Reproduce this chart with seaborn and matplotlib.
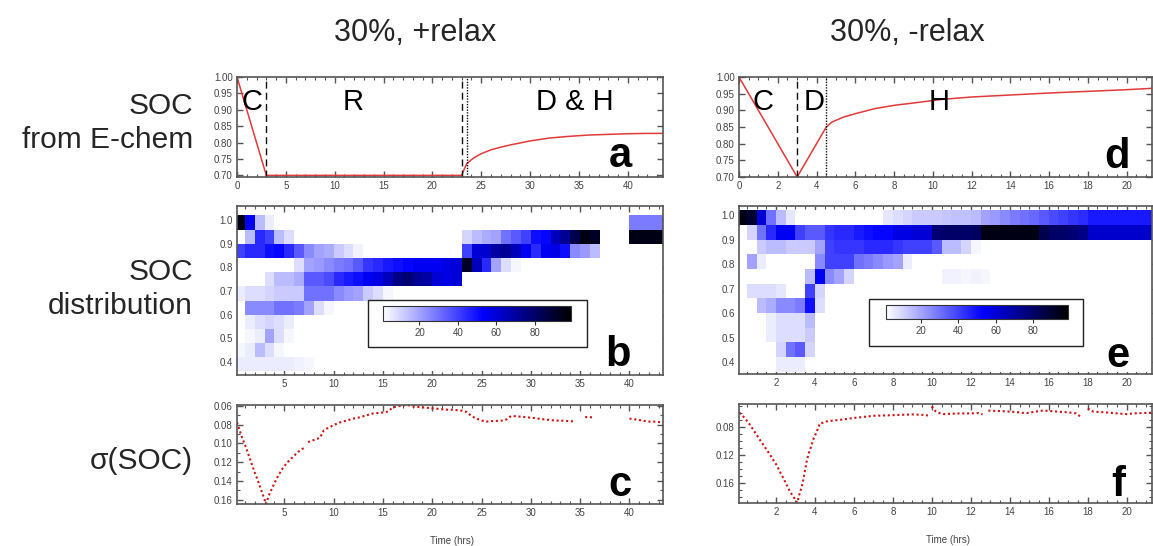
import numpy as np
import pandas as pd
import matplotlib
matplotlib.use("Agg")
import matplotlib.pyplot as plt
import seaborn as sns
from matplotlib.colors import LinearSegmentedColormap
from matplotlib.ticker import MultipleLocator, FormatStrFormatter
from matplotlib.patches import Rectangle

sns.set_theme(style="ticks")
plt.rcParams["font.family"] = ["Liberation Sans", "DejaVu Sans"]

# ---------------- data ----------------
titles = ["30%, +relax", "30%, -relax"]
row_labels = ["SOC\nfrom E-chem", "SOC\ndistribution", "\u03c3(SOC)"]
phase_left = ["C", "R", "D & H"]
phase_right = ["C", "D", "H"]
panel_letters = ["a", "b", "c", "d", "e", "f"]

# (a) SOC from electrochemistry, +relax
a_time = [0.0, 3.0, 23.0, 23.2, 23.5, 24.0, 24.5, 25.0, 26.0, 27.0, 28.0, 30.0,
          32.0, 34.0, 36.0, 38.0, 40.0, 42.0, 43.6]
a_soc = [1.00, 0.70, 0.70, 0.715, 0.735, 0.748, 0.758, 0.766, 0.778, 0.786, 0.793,
         0.805, 0.814, 0.819, 0.823, 0.825, 0.827, 0.828, 0.828]
a_dashed = [3.0, 23.0]
a_dotted = [23.5]

# (d) SOC from electrochemistry, -relax
d_time = [0.0, 3.0, 4.5, 4.8, 5.4, 6.0, 7.0, 8.0, 9.0, 10.5, 12.0, 14.0, 16.0,
          18.0, 20.0, 21.3]
d_soc = [1.00, 0.70, 0.850, 0.865, 0.880, 0.890, 0.905, 0.915, 0.922, 0.933, 0.940,
         0.946, 0.952, 0.957, 0.962, 0.966]
d_dashed = [3.0]
d_dotted = [4.5]

# SOC bins (rows, low -> high edges)
soc_edges = [0.36, 0.42, 0.48, 0.54, 0.60, 0.66, 0.72, 0.78, 0.84, 0.90, 0.96, 1.02]

# (b) SOC distribution, +relax : 1-hr time bins, 0..44 h
b_time_edges = list(range(0, 45))
b_row_099 = [95, 55, 15, 5, 0, 0, 0, 0, 0, 0,  0, 0, 0, 0, 0, 0, 0, 0, 0, 0,
             0, 0, 0, 0, 0, 0, 0, 0, 0, 0,  0, 0, 0, 0, 0, 0, 0, 0, 0, 0,  28, 28, 28, 28]
b_row_093 = [0, 15, 45, 40, 15, 8, 0, 0, 0, 0,  0, 0, 0, 0, 0, 0, 0, 0, 0, 0,
             0, 0, 0, 10, 15, 18, 20, 30, 35, 40,  50, 52, 65, 72, 85, 95, 92, 0, 0, 0,  95, 95, 95, 95]
b_row_087 = [40, 45, 45, 50, 52, 45, 35, 25, 20, 18,  12, 8, 4, 0, 0, 0, 0, 0, 0, 0,
             0, 0, 0, 40, 60, 62, 70, 72, 65, 55,  45, 55, 58, 50, 25, 22, 15, 0, 0, 0,  0, 0, 0, 0]
b_row_081 = [0, 0, 0, 0, 0, 0, 8, 20, 22, 25,  28, 30, 35, 42, 45, 48, 50, 52, 55, 55,
             55, 58, 60, 92, 65, 45, 20, 8, 3, 0,  0, 0, 0, 0, 0, 0, 0, 0, 0, 0,  0, 0, 0, 0]
b_row_075 = [0, 0, 0, 8, 15, 15, 18, 35, 35, 38,  45, 48, 50, 55, 58, 65, 75, 78, 72, 70,
             60, 58, 60, 0, 0, 0, 0, 0, 0, 0,  0, 0, 0, 0, 0, 0, 0, 0, 0, 0,  0, 0, 0, 0]
b_row_069 = [5, 8, 8, 10, 12, 12, 12, 30, 30, 30,  25, 22, 20, 12, 8, 3, 0, 0, 0, 0,
             0, 0, 0, 0, 0, 0, 0, 0, 0, 0,  0, 0, 0, 0, 0, 0, 0, 0, 0, 0,  0, 0, 0, 0]
b_row_063 = [0, 25, 25, 25, 30, 30, 28, 20, 8, 3,  0, 0, 0, 0, 0, 0, 0, 0, 0, 0,
             0, 0, 0, 0, 0, 0, 0, 0, 0, 0,  0, 0, 0, 0, 0, 0, 0, 0, 0, 0,  0, 0, 0, 0]
b_row_057 = [0, 5, 8, 10, 8, 5, 0, 0, 0, 0,  0, 0, 0, 0, 0, 0, 0, 0, 0, 0,
             0, 0, 0, 0, 0, 0, 0, 0, 0, 0,  0, 0, 0, 0, 0, 0, 0, 0, 0, 0,  0, 0, 0, 0]
b_row_051 = [0, 3, 5, 20, 8, 3, 0, 0, 0, 0,  0, 0, 0, 0, 0, 0, 0, 0, 0, 0,
             0, 0, 0, 0, 0, 0, 0, 0, 0, 0,  0, 0, 0, 0, 0, 0, 0, 0, 0, 0,  0, 0, 0, 0]
b_row_045 = [3, 5, 15, 8, 3, 0, 0, 0, 0, 0,  0, 0, 0, 0, 0, 0, 0, 0, 0, 0,
             0, 0, 0, 0, 0, 0, 0, 0, 0, 0,  0, 0, 0, 0, 0, 0, 0, 0, 0, 0,  0, 0, 0, 0]
b_row_039 = [5, 5, 5, 5, 5, 5, 4, 3, 0, 0,  0, 0, 0, 0, 0, 0, 0, 0, 0, 0,
             0, 0, 0, 0, 0, 0, 0, 0, 0, 0,  0, 0, 0, 0, 0, 0, 0, 0, 0, 0,  0, 0, 0, 0]

# (e) SOC distribution, -relax : 0.5-hr time bins, 0..21.5 h
e_time_edges = [0.5 * k for k in range(44)]
e_row_099 = [95, 90, 60, 30, 15, 6, 0, 0, 0, 0,  0, 0, 0, 0, 0, 6, 8, 10, 12, 12,
             12, 13, 14, 14, 15, 20, 22, 25, 28, 30,  32, 35, 38, 40, 42, 44, 48, 48, 48, 48,  48, 48, 48]
e_row_093 = [0, 10, 30, 45, 55, 55, 40, 35, 35, 42,  45, 45, 48, 50, 52, 52, 58, 58, 60, 60,
             78, 80, 80, 80, 82, 95, 95, 95, 95, 95,  95, 85, 80, 80, 78, 75, 62, 62, 62, 62,  62, 62, 62]
e_row_087 = [0, 0, 12, 15, 15, 12, 12, 12, 20, 40,  42, 42, 42, 45, 45, 45, 42, 40, 40, 40,
             35, 15, 15, 10, 3, 0, 0, 0, 0, 0,  0, 0, 0, 0, 0, 0, 0, 0, 0, 0,  0, 0, 0]
e_row_081 = [0, 20, 5, 0, 0, 0, 0, 0, 25, 40,  40, 40, 30, 28, 25, 22, 20, 5, 0, 0,
             0, 0, 0, 0, 0, 0, 0, 0, 0, 0,  0, 0, 0, 0, 0, 0, 0, 0, 0, 0,  0, 0, 0]
e_row_075 = [0, 0, 0, 0, 0, 0, 0, 15, 55, 25,  20, 10, 0, 0, 0, 0, 0, 0, 0, 0,
             0, 4, 4, 3, 4, 3, 0, 0, 0, 0,  0, 0, 0, 0, 0, 0, 0, 0, 0, 0,  0, 0, 0]
e_row_069 = [0, 8, 8, 8, 6, 0, 0, 40, 10, 0,  0, 0, 0, 0, 0, 0, 0, 0, 0, 0,
             0, 0, 0, 0, 0, 0, 0, 0, 0, 0,  0, 0, 0, 0, 0, 0, 0, 0, 0, 0,  0, 0, 0]
e_row_063 = [0, 0, 15, 18, 25, 25, 28, 50, 8, 0,  0, 0, 0, 0, 0, 0, 0, 0, 0, 0,
             0, 0, 0, 0, 0, 0, 0, 0, 0, 0,  0, 0, 0, 0, 0, 0, 0, 0, 0, 0,  0, 0, 0]
e_row_057 = [0, 0, 0, 5, 8, 8, 8, 15, 0, 0,  0, 0, 0, 0, 0, 0, 0, 0, 0, 0,
             0, 0, 0, 0, 0, 0, 0, 0, 0, 0,  0, 0, 0, 0, 0, 0, 0, 0, 0, 0,  0, 0, 0]
e_row_051 = [0, 0, 0, 5, 8, 8, 8, 12, 0, 0,  0, 0, 0, 0, 0, 0, 0, 0, 0, 0,
             0, 0, 0, 0, 0, 0, 0, 0, 0, 0,  0, 0, 0, 0, 0, 0, 0, 0, 0, 0,  0, 0, 0]
e_row_045 = [0, 0, 0, 0, 10, 30, 35, 10, 0, 0,  0, 0, 0, 0, 0, 0, 0, 0, 0, 0,
             0, 0, 0, 0, 0, 0, 0, 0, 0, 0,  0, 0, 0, 0, 0, 0, 0, 0, 0, 0,  0, 0, 0]
e_row_039 = [0, 0, 0, 0, 5, 5, 5, 0, 0, 0,  0, 0, 0, 0, 0, 0, 0, 0, 0, 0,
             0, 0, 0, 0, 0, 0, 0, 0, 0, 0,  0, 0, 0, 0, 0, 0, 0, 0, 0, 0,  0, 0, 0]
cbar_ticks = [20, 40, 60, 80]

# (c) sigma(SOC), +relax  (segments separated by data gaps)
c_seg1_t = [0.2, 0.5, 0.8, 1.1, 1.4, 1.7, 2.0, 2.3, 2.6, 2.9, 3.15, 3.4, 3.7, 4.0,
            4.4, 4.8, 5.2, 5.6, 6.0, 6.4, 6.8, 7.1]
c_seg1_s = [0.0775, 0.087, 0.096, 0.104, 0.113, 0.122, 0.131, 0.139, 0.148, 0.157,
            0.1645, 0.156, 0.149, 0.142, 0.134, 0.127, 0.1215, 0.117, 0.113, 0.109,
            0.106, 0.104]
c_seg2_t = [7.4, 7.8, 8.2, 8.6, 9.0, 9.5, 10.0, 10.5, 11.0, 11.5, 12.0, 12.5, 13.0,
            13.5, 14.0, 14.5, 15.0, 15.5, 16.0, 16.5, 17.0, 17.5, 18.0, 18.5, 19.0,
            19.5, 20.0, 20.5, 21.0, 21.5, 22.0, 22.5, 23.0, 23.5, 24.0, 24.5, 25.0,
            25.5, 26.0, 26.5, 27.0, 27.5, 28.0, 28.5, 29.0, 29.5, 30.0, 30.5, 31.0,
            31.5, 32.0, 32.5, 33.0, 33.5, 34.0, 34.5]
c_seg2_s = [0.0985, 0.097, 0.0955, 0.094, 0.086, 0.083, 0.0805, 0.078, 0.0765, 0.075,
            0.0735, 0.0725, 0.071, 0.0695, 0.068, 0.0675, 0.067, 0.066, 0.0615, 0.0605,
            0.0595, 0.059, 0.0605, 0.061, 0.0615, 0.062, 0.0625, 0.063, 0.0635, 0.064,
            0.064, 0.0645, 0.065, 0.0665, 0.071, 0.0735, 0.0755, 0.0767, 0.0762, 0.076,
            0.0757, 0.0745, 0.0707, 0.071, 0.0715, 0.072, 0.0725, 0.073, 0.074, 0.0745,
            0.075, 0.0757, 0.0755, 0.076, 0.0762, 0.0767]
c_seg3_t = [35.5, 35.8, 36.2]
c_seg3_s = [0.072, 0.0718, 0.0722]
c_seg4_t = [40.0, 40.5, 41.0, 41.5, 42.0, 42.5, 43.0, 43.4]
c_seg4_s = [0.0735, 0.0742, 0.075, 0.076, 0.0767, 0.0767, 0.0772, 0.0774]

# (f) sigma(SOC), -relax
f_seg1_t = [0.12, 0.33, 0.5, 0.67, 0.84, 1.01, 1.18, 1.35, 1.52, 1.69, 1.86, 2.03,
            2.2, 2.38, 2.55, 2.72, 2.89, 3.09, 3.2, 3.32, 3.4, 3.49, 3.57, 3.66, 3.74,
            3.83, 3.9, 3.99, 4.09, 4.17, 4.26, 4.43, 4.6, 5.0, 5.5, 6.0, 6.5, 7.0,
            7.5, 8.0, 8.5, 9.0, 9.5, 9.8]
f_seg1_s = [0.060, 0.0657, 0.0714, 0.0776, 0.0847, 0.0919, 0.099, 0.106, 0.113, 0.120,
            0.1276, 0.1347, 0.1443, 0.1537, 0.1633, 0.1729, 0.180, 0.1886, 0.1767,
            0.1657, 0.156, 0.1419, 0.130, 0.120, 0.113, 0.106, 0.099, 0.0933, 0.087,
            0.081, 0.075, 0.0743, 0.0725, 0.071, 0.0695, 0.0675, 0.066, 0.0645, 0.064,
            0.0635, 0.063, 0.0625, 0.063, 0.064]
f_seg2_t = [10.0, 10.1, 10.3, 10.6, 11.0, 11.5, 12.0, 12.4, 12.6]
f_seg2_s = [0.051, 0.056, 0.060, 0.062, 0.0615, 0.061, 0.061, 0.0605, 0.0625]
f_seg3_t = [12.9, 13.3, 13.7, 14.0, 14.5, 14.8, 15.2, 15.7, 16.0, 16.5, 17.0, 17.4, 17.6]
f_seg3_s = [0.057, 0.0575, 0.058, 0.0585, 0.0595, 0.061, 0.059, 0.057, 0.0575, 0.0586,
            0.0595, 0.061, 0.065]
f_seg4_t = [18.0, 18.3, 18.6, 19.1, 19.5, 20.0, 20.4, 20.8, 21.3]
f_seg4_s = [0.054, 0.0586, 0.059, 0.060, 0.061, 0.062, 0.061, 0.0605, 0.060]

# ---------------- helpers ----------------
RED_LINE = "#e03a3a"
RED_DOT = "#cc1414"
FRAME = "#555555"
TICKLAB = "#444444"

cmap = LinearSegmentedColormap.from_list(
    "wbk", [(0.0, "#ffffff"), (0.53, "#0000ff"), (1.0, "#000000")])


def style(ax):
    for s in ax.spines.values():
        s.set_color(FRAME)
        s.set_linewidth(1.2)
    ax.tick_params(which="both", direction="in", top=True, right=True,
                   color=FRAME, labelcolor=TICKLAB, labelsize=7, pad=3)
    ax.tick_params(which="major", length=4.5, width=1.0)
    ax.tick_params(which="minor", length=2.5, width=0.8)
    ax.set_xlabel("")
    ax.set_ylabel("")


def seg_frame(segs):
    rows = []
    for k, (ts, ss) in enumerate(segs):
        for t, s in zip(ts, ss):
            rows.append({"t": t, "s": s, "seg": k})
    return pd.DataFrame(rows)


W, H = 1153, 546
fig = plt.figure(figsize=(W / 100, H / 100), dpi=100)


def px_axes(x0, x1, y0, y1):
    return fig.add_axes([x0 / W, 1 - y1 / H, (x1 - x0) / W, (y1 - y0) / H])


ax_a = px_axes(237, 663, 77, 177)
ax_b = px_axes(237, 663, 206, 375)
ax_c = px_axes(237, 663, 405, 504)
ax_d = px_axes(739, 1152, 77, 177)
ax_e = px_axes(739, 1152, 206, 374)
ax_f = px_axes(739, 1152, 404, 503)

# --- a / d : SOC lines ---
for ax, tt, ss, dsh, dot, xl, xmaj, xmin, phases, ppos in [
    (ax_a, a_time, a_soc, a_dashed, a_dotted, (0, 43.6), 5, 1, phase_left, [0.036, 0.272, 0.793]),
    (ax_d, d_time, d_soc, d_dashed, d_dotted, (0, 21.3), 2, 0.5, phase_right, [0.058, 0.182, 0.484]),
]:
    sns.lineplot(x=tt, y=ss, ax=ax, color=RED_LINE, lw=1.1, sort=False)
    for v in dsh:
        ax.axvline(v, color="#111111", lw=1.0, ls=(0, (5, 3)))
    for v in dot:
        ax.axvline(v, color="#111111", lw=1.0, ls=(0, (1, 1)))
    ax.set_xlim(*xl)
    ax.set_ylim(0.695 if ax is ax_a else 0.70, 1.0)
    ax.xaxis.set_major_locator(MultipleLocator(xmaj))
    ax.xaxis.set_minor_locator(MultipleLocator(xmin))
    ax.yaxis.set_major_locator(MultipleLocator(0.05))
    ax.yaxis.set_major_formatter(FormatStrFormatter("%.2f"))
    style(ax)
    for lab, xp in zip(phases, ppos):
        ax.text(xp, 0.67, lab, transform=ax.transAxes, ha="center", va="baseline",
                fontsize=21, color="black")

# --- b / e : SOC distribution heatmaps ---
b_grid = np.array([b_row_039, b_row_045, b_row_051, b_row_057, b_row_063, b_row_069,
                   b_row_075, b_row_081, b_row_087, b_row_093, b_row_099], dtype=float)
e_grid = np.array([e_row_039, e_row_045, e_row_051, e_row_057, e_row_063, e_row_069,
                   e_row_075, e_row_081, e_row_087, e_row_093, e_row_099], dtype=float)

meshes = []
for ax, edges, grid, xl, yl, xmaj, xmin in [
    (ax_b, b_time_edges, b_grid, (0.2, 43.4), (0.345, 1.06), 5, 1),
    (ax_e, e_time_edges, e_grid, (0.1, 21.3), (0.351, 1.037), 2, 0.5),
]:
    m = ax.pcolormesh(edges, soc_edges, grid, cmap=cmap, vmin=1, vmax=99,
                      shading="flat", edgecolors="none")
    meshes.append(m)
    ax.set_xlim(*xl)
    ax.set_ylim(*yl)
    ax.xaxis.set_major_locator(MultipleLocator(xmaj))
    ax.xaxis.set_minor_locator(MultipleLocator(xmin))
    ax.yaxis.set_major_locator(MultipleLocator(0.1))
    ax.yaxis.set_major_formatter(FormatStrFormatter("%.1f"))
    style(ax)

# colour bars inside white boxes
for ax, m, box, bar in [
    (ax_b, meshes[0], (368, 587, 300, 347), (383, 571, 306, 321)),
    (ax_e, meshes[1], (869, 1083, 299, 346), (886, 1068, 305, 319)),
]:
    bx0, bx1, by0, by1 = box
    ax.add_patch(Rectangle((bx0 / W, 1 - by1 / H), (bx1 - bx0) / W, (by1 - by0) / H,
                           transform=fig.transFigure, facecolor="white",
                           edgecolor="#222222", lw=1.0, zorder=10, clip_on=False))
    cx0, cx1, cy0, cy1 = bar
    cax = fig.add_axes([cx0 / W, 1 - cy1 / H, (cx1 - cx0) / W, (cy1 - cy0) / H])
    cb = fig.colorbar(m, cax=cax, orientation="horizontal", ticks=cbar_ticks)
    cb.outline.set_edgecolor("#333333")
    cb.outline.set_linewidth(0.8)
    cax.tick_params(direction="out", length=3, width=0.8, color="#333333",
                    labelcolor=TICKLAB, labelsize=7, pad=2)

# --- c / f : sigma(SOC) ---
c_df = seg_frame([(c_seg1_t, c_seg1_s), (c_seg2_t, c_seg2_s),
                  (c_seg3_t, c_seg3_s), (c_seg4_t, c_seg4_s)])
f_df = seg_frame([(f_seg1_t, f_seg1_s), (f_seg2_t, f_seg2_s),
                  (f_seg3_t, f_seg3_s), (f_seg4_t, f_seg4_s)])

for ax, df, xl, yl, xmaj, xmin, ymaj, ymin in [
    (ax_c, c_df, (0.2, 43.4), (0.1645, 0.059), 5, 1, 0.02, 0.01),
    (ax_f, f_df, (0.1, 21.3), (0.189, 0.0476), 2, 0.5, 0.04, 0.01),
]:
    sns.lineplot(data=df, x="t", y="s", units="seg", estimator=None, ax=ax,
                 color=RED_DOT, lw=1.5, linestyle=(0, (1.0, 1.3)), sort=False)
    ax.set_xlim(*xl)
    ax.set_ylim(*yl)
    ax.xaxis.set_major_locator(MultipleLocator(xmaj))
    ax.xaxis.set_minor_locator(MultipleLocator(xmin))
    ax.yaxis.set_major_locator(MultipleLocator(ymaj))
    ax.yaxis.set_minor_locator(MultipleLocator(ymin))
    ax.yaxis.set_major_formatter(FormatStrFormatter("%.2f"))
    style(ax)

# panel letters
for ax, lab, (xp, yp) in zip([ax_a, ax_b, ax_c, ax_d, ax_e, ax_f], panel_letters,
                             [(0.899, 0.10), (0.894, 0.053), (0.899, 0.08),
                              (0.915, 0.09), (0.918, 0.042), (0.918, 0.07)]):
    ax.text(xp, yp, lab, transform=ax.transAxes, ha="center", va="baseline",
            fontsize=30, fontweight="bold", color="black", zorder=20)

# titles, row labels, axis labels
fig.text(415 / W, 1 - 41 / H, titles[0], ha="center", va="baseline", fontsize=22)
fig.text(907 / W, 1 - 41 / H, titles[1], ha="center", va="baseline", fontsize=22)
fig.text(193 / W, 1 - 123 / H, row_labels[0], ha="right", va="center",
         multialignment="right", fontsize=21.5, linespacing=1.28)
fig.text(193 / W, 1 - 289 / H, row_labels[1], ha="right", va="center",
         multialignment="right", fontsize=21.5, linespacing=1.28)
fig.text(193 / W, 1 - 461 / H, row_labels[2], ha="right", va="center", fontsize=21.5)
fig.text(452 / W, 1 - 541 / H, "Time (hrs)", ha="center", va="center", fontsize=7,
         color=TICKLAB)
fig.text(948 / W, 1 - 540 / H, "Time (hrs)", ha="center", va="center", fontsize=7,
         color=TICKLAB)

fig.savefig("out.png", dpi=100, facecolor="white")
